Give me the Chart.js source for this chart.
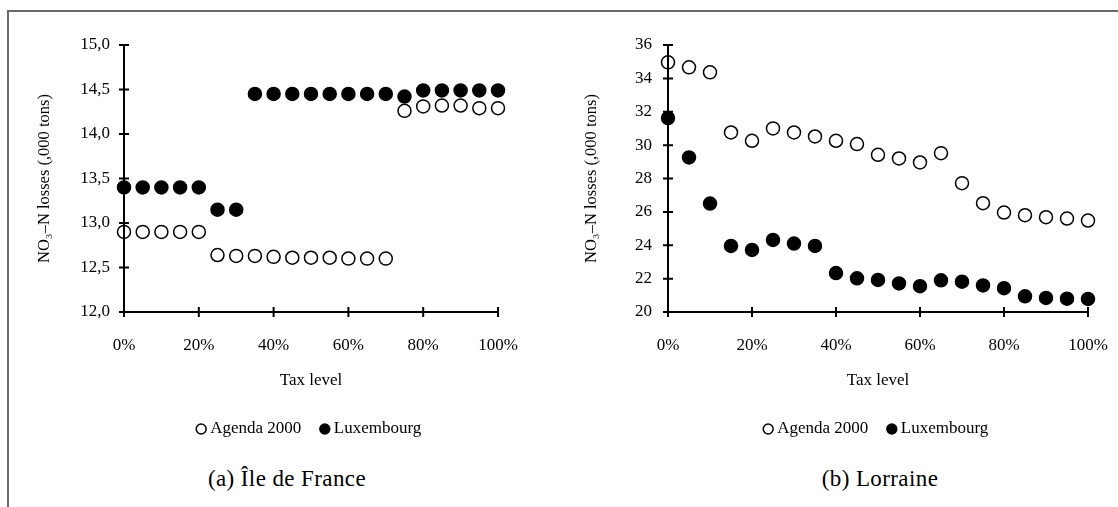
<!DOCTYPE html>
<html>
<head>
<meta charset="utf-8">
<script src="https://cdn.jsdelivr.net/npm/chart.js@4.4.1/dist/chart.umd.min.js"></script>
<style>
  html, body { margin: 0; padding: 0; background: #fff; overflow: hidden; width: 1118px; height: 507px; }
  #frame { position: absolute; left: 7px; top: 10px; width: 1200px; height: 600px;
           border-top: 2px solid #6a6a6a; border-left: 2px solid #6a6a6a; }
  canvas { position: absolute; top: 0; }
  #ileCanvas { left: 0; }
  #lorCanvas { left: 560px; }
  .caption { position: absolute; top: 466px; font-family: "Liberation Serif", serif; font-size: 23px;
             letter-spacing: 0.4px; transform: translateX(-50%); white-space: nowrap; color: #000; }
</style>
</head>
<body>
<div id="frame"></div>
<canvas id="ileCanvas" width="622" height="450"></canvas>
<canvas id="lorCanvas" width="636" height="450"></canvas>
<div class="caption" style="left:287px">(a) Île de France</div>
<div class="caption" style="left:880px">(b) Lorraine</div>
<script>
// tax levels, %
const taxLevels = [0, 5, 10, 15, 20, 25, 30, 35, 40, 45, 50, 55, 60, 65, 70, 75, 80, 85, 90, 95, 100];

// Ile de France, NO3-N losses (,000 tons)
const ileAgenda = [12.90, 12.90, 12.90, 12.90, 12.90, 12.64, 12.63, 12.63, 12.62, 12.61, 12.61,
                   12.61, 12.60, 12.60, 12.60, 14.26, 14.31, 14.32, 14.32, 14.29, 14.29];
const ileLux = [13.40, 13.40, 13.40, 13.40, 13.40, 13.15, 13.15, 14.45, 14.45, 14.45, 14.45,
                14.45, 14.45, 14.45, 14.45, 14.42, 14.49, 14.49, 14.49, 14.49, 14.49];

// Lorraine
const lorAgenda = [34.96, 34.66, 34.36, 30.76, 30.26, 31.00, 30.76, 30.52, 30.26, 30.06, 29.42,
                   29.20, 28.96, 29.52, 27.72, 26.52, 25.96, 25.80, 25.68, 25.60, 25.48];
const lorLux = [31.62, 29.26, 26.50, 23.96, 23.72, 24.32, 24.10, 23.96, 22.33, 22.02, 21.92,
                21.71, 21.55, 21.90, 21.82, 21.59, 21.43, 20.94, 20.84, 20.80, 20.78];

const seriesNames = ['Agenda 2000', 'Luxembourg'];
const yTitle = 'NO₃–N losses (,000 tons)';
const xTitle = 'Tax level';

Chart.defaults.font.family = '"Liberation Serif", "Times New Roman", serif';
Chart.defaults.color = '#000';

function toPoints(values) {
  return taxLevels.map((x, i) => ({ x: x, y: values[i] }));
}

// tick marks that cross the axis lines
const crossTicks = {
  id: 'crossTicks',
  afterDraw(chart) {
    const { ctx, chartArea, scales } = chart;
    ctx.save();
    ctx.strokeStyle = '#000';
    ctx.lineWidth = 2;
    ctx.beginPath();
    scales.x.ticks.forEach(t => {
      const px = scales.x.getPixelForValue(t.value);
      ctx.moveTo(px, chartArea.bottom - 5);
      ctx.lineTo(px, chartArea.bottom + 5);
    });
    scales.y.ticks.forEach(t => {
      const py = scales.y.getPixelForValue(t.value);
      ctx.moveTo(chartArea.left - 5, py);
      ctx.lineTo(chartArea.left + 5, py);
    });
    ctx.stroke();
    ctx.restore();
  }
};

function buildChart(id, agenda, lux, yOpts) {
  return new Chart(document.getElementById(id), {
    type: 'scatter',
    data: {
      datasets: [
        { label: seriesNames[0], data: toPoints(agenda), backgroundColor: '#fff', borderColor: '#000',
          borderWidth: 1.5, pointRadius: 6.5, pointHoverRadius: 6.5, clip: false },
        { label: seriesNames[1], data: toPoints(lux), backgroundColor: '#000', borderColor: '#000',
          borderWidth: 1.5, pointRadius: 6.5, pointHoverRadius: 6.5, clip: false }
      ]
    },
    options: {
      responsive: false,
      animation: false,
      devicePixelRatio: 1,
      events: [],
      layout: { padding: { top: 45, bottom: 2.5, left: 0, right: 0 } },
      plugins: {
        tooltip: { enabled: false },
        legend: {
          position: 'bottom',
          labels: { usePointStyle: true, boxWidth: 1, boxHeight: 7, padding: 23,
                    font: { size: 17 }, color: '#000' }
        }
      },
      scales: {
        x: {
          type: 'linear', min: 0, max: 100,
          grid: { display: false, drawTicks: false },
          border: { display: true, color: '#000', width: 2, z: 1 },
          ticks: { stepSize: 20, autoSkip: false, maxRotation: 0, padding: 23,
                   font: { size: 17 }, callback: v => v + '%' },
          title: { display: true, text: xTitle, font: { size: 17 }, padding: { top: 0, bottom: 6.3 } },
          afterFit(s) { s.height = 85.5; }
        },
        y: {
          type: 'linear', min: yOpts.min, max: yOpts.max,
          grid: { display: false, drawTicks: false },
          border: { display: true, color: '#000', width: 2, z: 1 },
          ticks: { stepSize: yOpts.step, padding: yOpts.labelPad, font: { size: 17 },
                   callback: yOpts.format },
          title: { display: true, text: yTitle, font: { size: 16.5 },
                   padding: { top: yOpts.titlePad, bottom: 0 } },
          afterFit(s) { s.width = yOpts.width; }
        },
        // empty right axis, same width as the left one, keeps the legend centred under the plot
        spacer: {
          type: 'linear', position: 'right', display: true,
          grid: { display: false, drawTicks: false },
          border: { display: false },
          ticks: { display: false },
          afterFit(s) { s.width = yOpts.width; }
        }
      }
    },
    plugins: [crossTicks]
  });
}

buildChart('ileCanvas', ileAgenda, ileLux, {
  min: 12, max: 15, step: 0.5, width: 124, labelPad: 14, titlePad: 35,
  format: v => v.toFixed(1).replace('.', ',')
});

buildChart('lorCanvas', lorAgenda, lorLux, {
  min: 20, max: 36, step: 2, width: 108, labelPad: 16, titlePad: 22,
  format: v => String(v)
});
</script>
</body>
</html>
